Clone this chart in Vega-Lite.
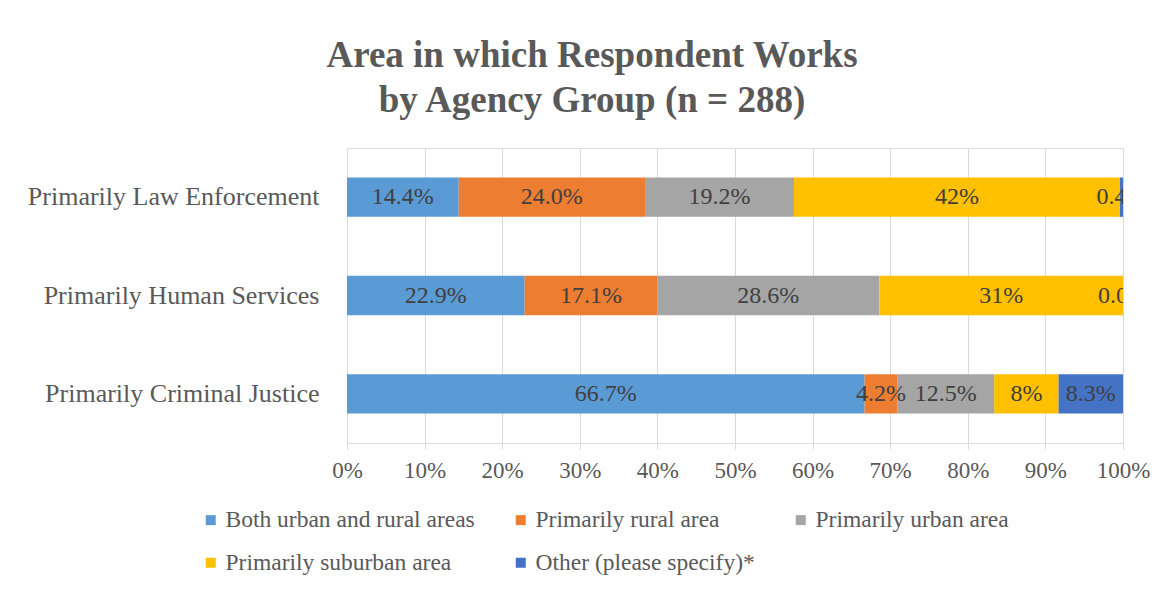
{
  "$schema": "https://vega.github.io/schema/vega-lite/v6.json",
  "width": 776,
  "height": 295,
  "autosize": "none",
  "padding": {"left": 347, "top": 148, "right": 50, "bottom": 147},
  "background": "white",
  "title": {
    "text": ["Area in which Respondent Works", "by Agency Group (n = 288)"],
    "font": "Liberation Serif",
    "fontSize": 37,
    "fontWeight": "bold",
    "color": "#595959",
    "anchor": "middle",
    "frame": "group",
    "dx": -143,
    "offset": 28,
    "lineHeight": 45
  },
  "data": {
    "values": [
      {"group": "Primarily Law Enforcement", "area": "Both urban and rural areas", "rank": 1, "value": 14.4, "label": "14.4%"},
      {"group": "Primarily Law Enforcement", "area": "Primarily rural area", "rank": 2, "value": 24.0, "label": "24.0%"},
      {"group": "Primarily Law Enforcement", "area": "Primarily urban area", "rank": 3, "value": 19.2, "label": "19.2%"},
      {"group": "Primarily Law Enforcement", "area": "Primarily suburban area", "rank": 4, "value": 42.0, "label": "42%"},
      {"group": "Primarily Law Enforcement", "area": "Other (please specify)*", "rank": 5, "value": 0.4, "label": "0.4%"},
      {"group": "Primarily Human Services", "area": "Both urban and rural areas", "rank": 1, "value": 22.9, "label": "22.9%"},
      {"group": "Primarily Human Services", "area": "Primarily rural area", "rank": 2, "value": 17.1, "label": "17.1%"},
      {"group": "Primarily Human Services", "area": "Primarily urban area", "rank": 3, "value": 28.6, "label": "28.6%"},
      {"group": "Primarily Human Services", "area": "Primarily suburban area", "rank": 4, "value": 31.4, "label": "31%"},
      {"group": "Primarily Human Services", "area": "Other (please specify)*", "rank": 5, "value": 0.0, "label": "0.0%"},
      {"group": "Primarily Criminal Justice", "area": "Both urban and rural areas", "rank": 1, "value": 66.7, "label": "66.7%"},
      {"group": "Primarily Criminal Justice", "area": "Primarily rural area", "rank": 2, "value": 4.2, "label": "4.2%"},
      {"group": "Primarily Criminal Justice", "area": "Primarily urban area", "rank": 3, "value": 12.5, "label": "12.5%"},
      {"group": "Primarily Criminal Justice", "area": "Primarily suburban area", "rank": 4, "value": 8.3, "label": "8%"},
      {"group": "Primarily Criminal Justice", "area": "Other (please specify)*", "rank": 5, "value": 8.3, "label": "8.3%"}
    ]
  },
  "transform": [
    {"stack": "value", "groupby": ["group"], "sort": [{"field": "rank", "order": "ascending"}], "offset": "normalize", "as": ["x0", "x1"]},
    {"calculate": "(datum.x0 + datum.x1) / 2", "as": "xmid"}
  ],
  "encoding": {
    "y": {
      "field": "group",
      "type": "nominal",
      "sort": ["Primarily Law Enforcement", "Primarily Human Services", "Primarily Criminal Justice"],
      "scale": {"paddingInner": 0.6, "paddingOuter": 0.3},
      "axis": {
        "title": null,
        "domain": false,
        "ticks": false,
        "grid": false,
        "labelFont": "Liberation Serif",
        "labelFontSize": 26,
        "labelColor": "#595959",
        "labelPadding": 28,
        "labelLimit": 400
      }
    }
  },
  "layer": [
    {
      "mark": {"type": "bar"},
      "encoding": {
        "x": {
          "field": "x0",
          "type": "quantitative",
          "scale": {"domain": [0, 1]},
          "axis": {
            "title": null,
            "values": [0, 0.1, 0.2, 0.3, 0.4, 0.5, 0.6, 0.7, 0.8, 0.9, 1],
            "format": ".0%",
            "domain": false,
            "grid": true,
            "gridColor": "#d9d9d9",
            "gridWidth": 1,
            "ticks": true,
            "tickColor": "#d9d9d9",
            "tickSize": 6,
            "labelFlush": false,
            "labelFont": "Liberation Serif",
            "labelFontSize": 23,
            "labelColor": "#595959",
            "labelPadding": 10
          }
        },
        "x2": {"field": "x1"},
        "color": {
          "field": "area",
          "type": "nominal",
          "scale": {
            "domain": ["Both urban and rural areas", "Primarily rural area", "Primarily urban area", "Primarily suburban area", "Other (please specify)*"],
            "range": ["#5B9BD5", "#ED7D31", "#A5A5A5", "#FFC000", "#4472C4"]
          },
          "legend": {
            "title": null,
            "orient": "none",
            "legendX": -148,
            "legendY": 360,
            "direction": "horizontal",
            "columns": 3,
            "columnPadding": 34,
            "rowPadding": 18,
            "symbolType": "square",
            "symbolSize": 100,
            "symbolStrokeWidth": 0,
            "labelFont": "Liberation Serif",
            "labelFontSize": 23.5,
            "labelColor": "#595959",
            "labelOffset": 3,
            "labelLimit": 400
          }
        }
      }
    },
    {
      "mark": {"type": "text", "font": "Liberation Serif", "fontSize": 24, "color": "#404040", "clip": true},
      "encoding": {
        "x": {"field": "xmid", "type": "quantitative"},
        "text": {"field": "label"}
      }
    }
  ]
}
